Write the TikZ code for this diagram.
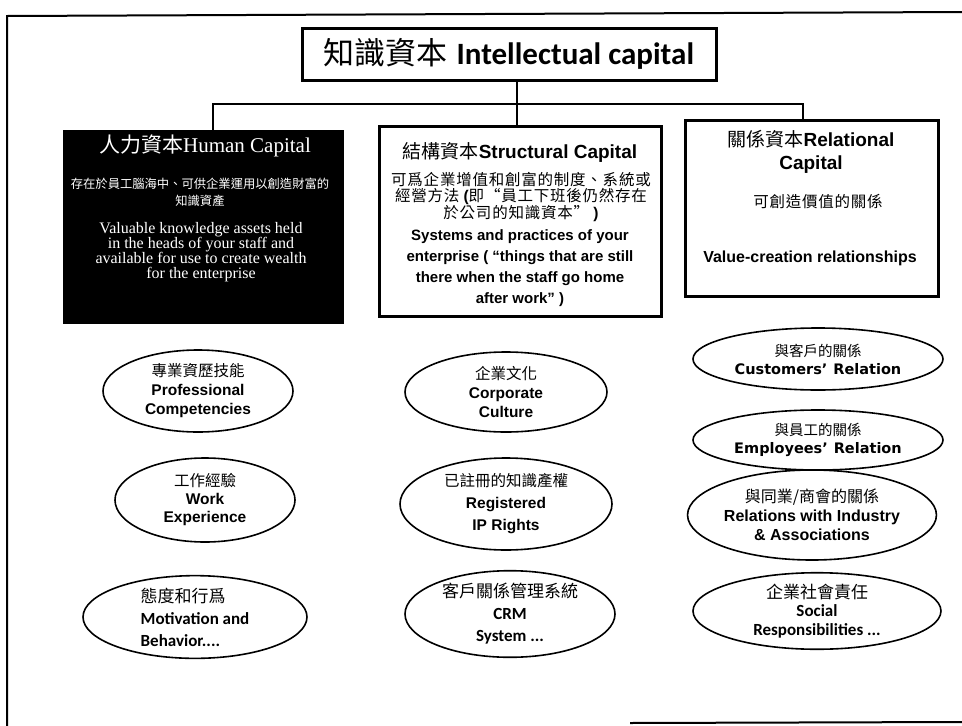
\documentclass[tikz,border=0pt]{standalone}
\usepackage{fontspec}
\setmainfont{Liberation Sans}
\newfontfamily\cjk{Noto Sans CJK TC}
\newfontfamily\cjkw[LetterSpace=5]{Noto Sans CJK TC}
\newfontfamily\carl{Carlito}
\newfontfamily\ser{Liberation Serif}
\newfontfamily\dvs{DejaVu Sans}
\newcommand\zh[1]{{\mdseries\cjk #1}}
\usetikzlibrary{shapes.geometric}
\begin{document}
\begin{tikzpicture}[x=1pt,y=-1pt,
  conn/.style={line width=2pt},
  framel/.style={line width=2pt},
  rbox/.style={draw, line width=3pt, inner sep=0pt},
  hbox/.style={fill=black, draw=black, inner sep=0pt},
  oval/.style={draw, ellipse, line width=1.6pt, inner sep=0pt, align=center,
    font=\fontsize{15.5}{19}\selectfont\bfseries},
  cfont/.style={font=\fontsize{17}{22}\selectfont\carl\bfseries},
  txt/.style={inner sep=0pt, align=center}
]
\useasboundingbox (0,0) rectangle (962,726);
\fill[white] (0,0) rectangle (962,726);

% outer frame fragments
\draw[framel] (962,12) -- (7,16) -- (7,726);
\draw[framel] (630,723) -- (962,722);

% top box
\node[rbox, minimum width=414pt, minimum height=52pt] (top) at (509,54)
  {\fontsize{31}{31}\selectfont\zh{知識資本} {\carl\bfseries Intellectual capital}};

% three main boxes
\node[hbox, minimum width=280pt, minimum height=193pt] (hum) at (203,226.5) {};
\node[rbox, minimum width=282pt, minimum height=190pt] (str) at (520,221) {};
\node[rbox, minimum width=253pt, minimum height=176pt] (rel) at (811.5,208) {};

% connectors
\coordinate (j) at (517,104);
\coordinate (hx) at (213,0);
\coordinate (rx) at (803,0);
\draw[conn] (top.south -| j) -- (str.north -| j);
\draw[conn] (hum.north -| hx) |- (j) -| (rel.north -| rx);

% human capital text
\node[txt, white, font=\fontsize{21}{21}\selectfont] (humt) at (205,146)
  {\zh{人力資本}{\ser Human Capital}};
\node[txt, white, font=\fontsize{12.3}{17}\selectfont\cjk] (humc) at (200,192)
  {存在於員工腦海中、可供企業運用以創造財富的\\知識資產};
\node[txt, white, font=\fontsize{16}{15}\selectfont\ser] (hume) at (201,252.5)
  {Valuable knowledge assets held\\in the heads of your staff and\\available for use to create wealth\\for the enterprise};

% structural capital text
\node[txt, font=\fontsize{19}{19}\selectfont\bfseries] (strt) at (520,152)
  {\zh{結構資本}Structural Capital};
\node[txt, font=\fontsize{15.5}{16}\selectfont\cjkw] (strc) at (521,197)
  {可爲企業增值和創富的制度、系統或\\經營方法 {\bfseries\rmfamily (}即“員工下班後仍然存在\\於公司的知識資本” {\bfseries\rmfamily )}};
\node[txt, font=\fontsize{15}{21}\selectfont\bfseries] (stre) at (520,268.5)
  {Systems and practices of your\\enterprise ( “things that are still\\there when the staff go home\\after work” )};

% relational capital text
\node[txt, font=\fontsize{19}{23}\selectfont\bfseries] (relt) at (811,151.5)
  {\zh{關係資本}Relational\\Capital};
\node[txt, font=\fontsize{15.5}{16}\selectfont\cjkw] (relc) at (818,202)
  {可創造價值的關係};
\node[txt, font=\fontsize{16}{16}\selectfont\bfseries] (rele) at (810,258)
  {Value-creation relationships};

% human capital ovals
\node[oval, minimum width=190pt, minimum height=82pt] (h1) at (198,391)
  {\zh{專業資歷技能}\\Professional\\Competencies};
\node[oval, minimum width=180pt, minimum height=84pt, font=\fontsize{15.5}{18}\selectfont\bfseries] (h2) at (205,500)
  {\zh{工作經驗}\\Work\\Experience};
\node[oval, minimum width=224pt, minimum height=80pt, align=left, cfont] (h3) at (195,617)
  {\zh{態度和行爲}\\Motivation and\\Behavior....};

% structural capital ovals
\node[oval, minimum width=202pt, minimum height=80pt] (s1) at (506,392)
  {\zh{企業文化}\\Corporate\\Culture};
\node[oval, minimum width=212pt, minimum height=92pt, font=\fontsize{15.5}{22}\selectfont\bfseries] (s2) at (506,504)
  {\zh{已註冊的知識產權}\\Registered\\IP Rights};
\node[oval, minimum width=210pt, minimum height=82pt, cfont] (s3) at (510,614)
  {\zh{客戶關係管理系統}\\CRM\\System ...};

% relational capital ovals
\node[oval, minimum width=250pt, minimum height=62pt, font=\fontsize{14.5}{18}\selectfont\dvs\bfseries] (r1) at (818,359)
  {\zh{與客戶的關係}\\Customers’\hspace{6pt}Relation};
\node[oval, minimum width=250pt, minimum height=60pt, font=\fontsize{14.5}{18}\selectfont\dvs\bfseries] (r2) at (818,440)
  {\zh{與員工的關係}\\Employees’\hspace{6pt}Relation};
\node[oval, minimum width=208pt, minimum height=90pt, font=\fontsize{16}{19}\selectfont\bfseries] (r3) at (812,515)
  {\zh{與同業/商會的關係}\\Relations with Industry\\\& Associations};
\node[oval, minimum width=248pt, minimum height=68pt, font=\fontsize{17}{18.5}\selectfont\carl\bfseries] (r4) at (817,611)
  {\zh{企業社會責任}\\Social\\Responsibilities ...};
\end{tikzpicture}
\end{document}
